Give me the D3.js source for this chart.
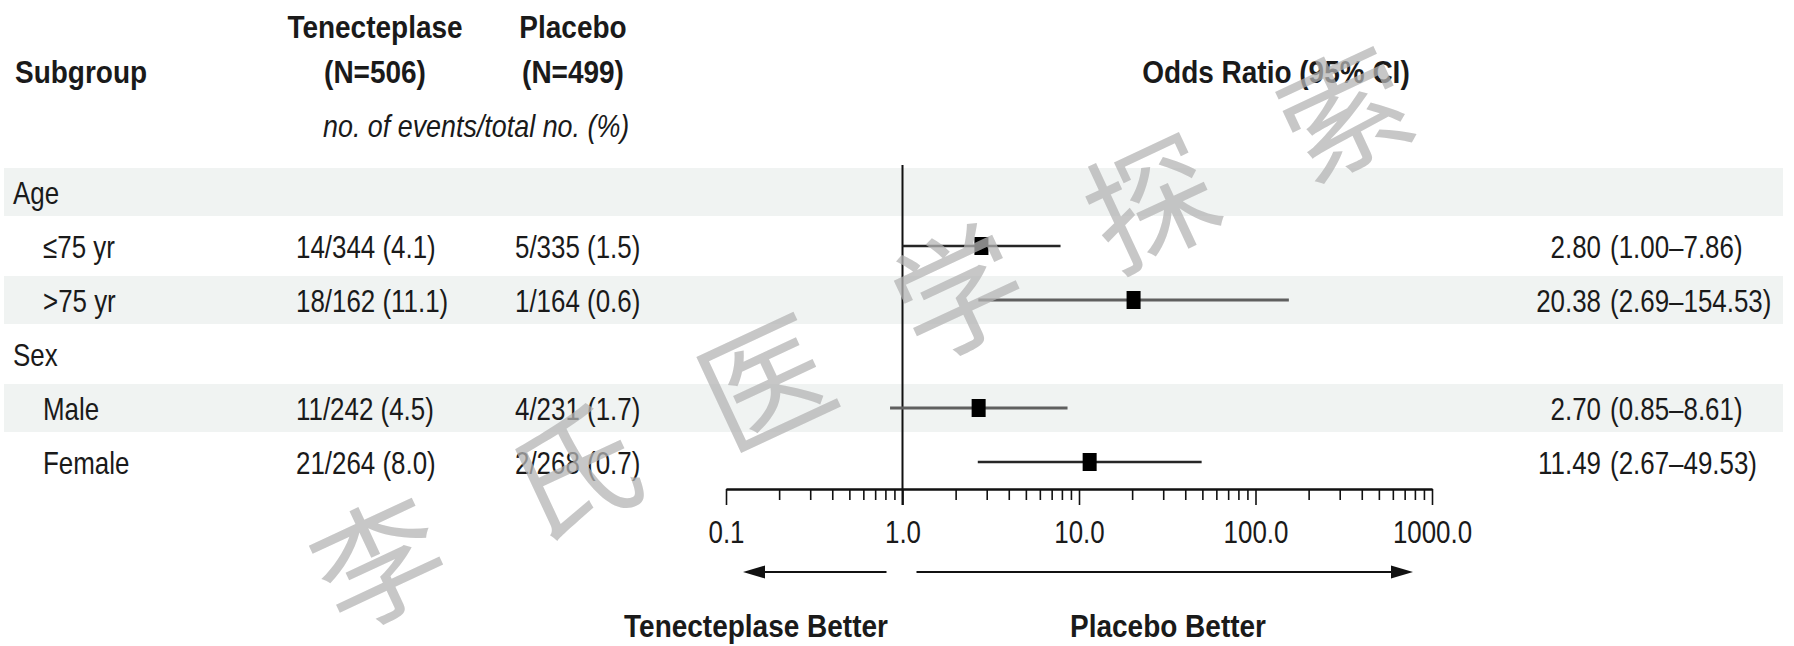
<!DOCTYPE html>
<html>
<head>
<meta charset="utf-8">
<script src="https://cdn.jsdelivr.net/npm/d3@7"></script>
<style>
  html, body { margin: 0; padding: 0; background: #ffffff; }
  svg { display: block; }
  text.lbl { font-family: 'Liberation Sans', Arial, sans-serif; fill: #1a1a1a; }
</style>
</head>
<body>
<svg id="chart" width="1794" height="646"></svg>
<script>
// Subgroup rows (headers have no values)
const subgroups          = ["Age", "≤75 yr", ">75 yr", "Sex", "Male", "Female"];
const rowLevel           = [0, 1, 1, 0, 1, 1];
const tenecteplaseEvents = [null, 14, 18, null, 11, 21];
const tenecteplaseTotal  = [null, 344, 162, null, 242, 264];
const tenecteplasePct    = [null, 4.1, 11.1, null, 4.5, 8.0];
const placeboEvents      = [null, 5, 1, null, 4, 2];
const placeboTotal       = [null, 335, 164, null, 231, 268];
const placeboPct         = [null, 1.5, 0.6, null, 1.7, 0.7];
const oddsRatio          = [null, 2.80, 20.38, null, 2.70, 11.49];
const ciLower            = [null, 1.00, 2.69, null, 0.85, 2.67];
const ciUpper            = [null, 7.86, 154.53, null, 8.61, 49.53];
const axisTicks          = [0.1, 1, 10, 100, 1000];

const W = 1794, H = 646;
const FS = 32;          // font size
const SX = 0.81;        // horizontal condensing, regular face
const SXB = 0.875;      // horizontal condensing, bold face
const svg = d3.select("#chart");
svg.append("rect").attr("width", W).attr("height", H).attr("fill", "#ffffff");

// condensed text helper
function label(parent, x, y, str, o = {}) {
  const sx = o.bold ? SXB : (o.italic ? 0.84 : SX);
  return parent.append("text")
    .attr("class", "lbl")
    .attr("transform", `translate(${x},${y}) scale(${sx},1)`)
    .attr("font-size", o.size || FS)
    .attr("font-weight", o.bold ? "bold" : null)
    .attr("font-style", o.italic ? "italic" : null)
    .attr("text-anchor", o.anchor || "start")
    .attr("dy", o.dy || null)
    .text(str);
}

const x = d3.scaleLog().domain([0.1, 1000]).range([726, 1432]);
const y = d3.scalePoint().domain(d3.range(subgroups.length)).range([192, 462]);
const rowH = 48;

// alternating shaded bands
const bandLayer = svg.append("g");
subgroups.forEach((s, i) => {
  if (i % 2 === 0) {
    bandLayer.append("rect")
      .attr("x", 4).attr("width", 1779)
      .attr("y", y(i) - rowH / 2).attr("height", rowH)
      .attr("fill", "#f0f3f2");
  }
});

// column headers
const hdr = svg.append("g");
label(hdr, 15, 83, "Subgroup", { bold: true });
label(hdr, 375, 38, "Tenecteplase", { bold: true, anchor: "middle" });
label(hdr, 375, 83, "(N=506)", { bold: true, anchor: "middle" });
label(hdr, 573, 38, "Placebo", { bold: true, anchor: "middle" });
label(hdr, 573, 83, "(N=499)", { bold: true, anchor: "middle" });
label(hdr, 1276, 83, "Odds Ratio (95% CI)", { bold: true, anchor: "middle" });
label(hdr, 323, 137, "no. of events/total no. (%)", { italic: true });

// table cells
const body = svg.append("g");
const fmtCount = (e, n, p) => `${e}/${n} (${p.toFixed(1)})`;
subgroups.forEach((s, i) => {
  const ty = y(i);
  label(body, rowLevel[i] ? 43 : 13, ty, s, { dy: "0.36em" });
  if (oddsRatio[i] == null) return;
  label(body, 296, ty, fmtCount(tenecteplaseEvents[i], tenecteplaseTotal[i], tenecteplasePct[i]), { dy: "0.36em" });
  label(body, 515, ty, fmtCount(placeboEvents[i], placeboTotal[i], placeboPct[i]), { dy: "0.36em" });
  label(body, 1601, ty, oddsRatio[i].toFixed(2), { dy: "0.36em", anchor: "end" });
  label(body, 1610, ty, `(${ciLower[i].toFixed(2)}–${ciUpper[i].toFixed(2)})`, { dy: "0.36em" });
});

// reference line at OR = 1
svg.append("line")
  .attr("x1", x(1)).attr("x2", x(1)).attr("y1", 165).attr("y2", 505)
  .attr("stroke", "#111").attr("stroke-width", 2);

// confidence intervals and point estimates
const marks = svg.append("g");
subgroups.forEach((s, i) => {
  if (oddsRatio[i] == null) return;
  const shaded = i % 2 === 0;
  marks.append("line")
    .attr("x1", x(ciLower[i])).attr("x2", x(ciUpper[i]))
    .attr("y1", y(i)).attr("y2", y(i))
    .attr("stroke", shaded ? "#5f5f5f" : "#262626")
    .attr("stroke-width", shaded ? 3.2 : 2.4);
  marks.append("rect")
    .attr("x", x(oddsRatio[i]) - 7).attr("y", y(i) - 9)
    .attr("width", 14).attr("height", 18)
    .attr("fill", "#000");
});

// log axis: minor ticks then labelled decades
const axisY = 489;
const minorTicks = [];
axisTicks.slice(0, -1).forEach(d => { for (let k = 2; k <= 9; k++) minorTicks.push(d * k); });
const gMinor = svg.append("g").attr("transform", `translate(0,${axisY})`)
  .call(d3.axisBottom(x).tickValues(minorTicks).tickSize(11).tickSizeOuter(0).tickFormat(""));
const gMajor = svg.append("g").attr("transform", `translate(0,${axisY})`)
  .call(d3.axisBottom(x).tickValues(axisTicks).tickSize(16).tickSizeOuter(0).tickFormat(d3.format(".1f")));
[gMinor, gMajor].forEach(g => {
  g.select(".domain").attr("stroke", "#111").attr("stroke-width", 2);
  g.selectAll(".tick line").attr("stroke", "#111").attr("stroke-width", 1.6);
});
gMajor.selectAll(".tick text")
  .attr("class", "lbl")
  .attr("y", 54).attr("dy", 0)
  .attr("transform", `scale(${SX},1)`)
  .attr("font-size", FS)
  .attr("fill", "#1a1a1a");

// direction arrows
const arrowY = 572;
function arrow(x0, x1) {
  const dir = Math.sign(x1 - x0), hl = 22, hw = 6.5;
  svg.append("line").attr("x1", x0).attr("x2", x1 - dir * hl * 0.6)
    .attr("y1", arrowY).attr("y2", arrowY)
    .attr("stroke", "#111").attr("stroke-width", 2);
  svg.append("path")
    .attr("d", `M${x1},${arrowY} L${x1 - dir * hl},${arrowY - hw} L${x1 - dir * hl},${arrowY + hw} Z`)
    .attr("fill", "#111");
}
arrow(x(1) - 16, x(0.1) + 17);
arrow(x(1) + 14, x(1000) - 19);

const foot = svg.append("g");
label(foot, 756, 637, "Tenecteplase Better", { bold: true, anchor: "middle" });
label(foot, 1168, 637, "Placebo Better", { bold: true, anchor: "middle" });

// watermark
const wm = ["李", "氏", "医", "学", "探", "索"];
const wmCx = 859, wmCy = 331, wmStep = 213, wmAngle = -25;
const rad = wmAngle * Math.PI / 180;
const wmG = svg.append("g").attr("pointer-events", "none");
wm.forEach((c, i) => {
  const off = (i - (wm.length - 1) / 2) * wmStep;
  const cx = wmCx + off * Math.cos(rad), cy = wmCy + off * Math.sin(rad);
  wmG.append("text")
    .attr("transform", `translate(${cx},${cy}) rotate(${wmAngle})`)
    .attr("text-anchor", "middle").attr("dominant-baseline", "central")
    .attr("font-family", "'Noto Sans CJK SC', sans-serif")
    .attr("font-size", 128)
    .style("fill", "#b4b4b4").attr("fill-opacity", 0.75)
    .text(c);
});
</script>
</body>
</html>
